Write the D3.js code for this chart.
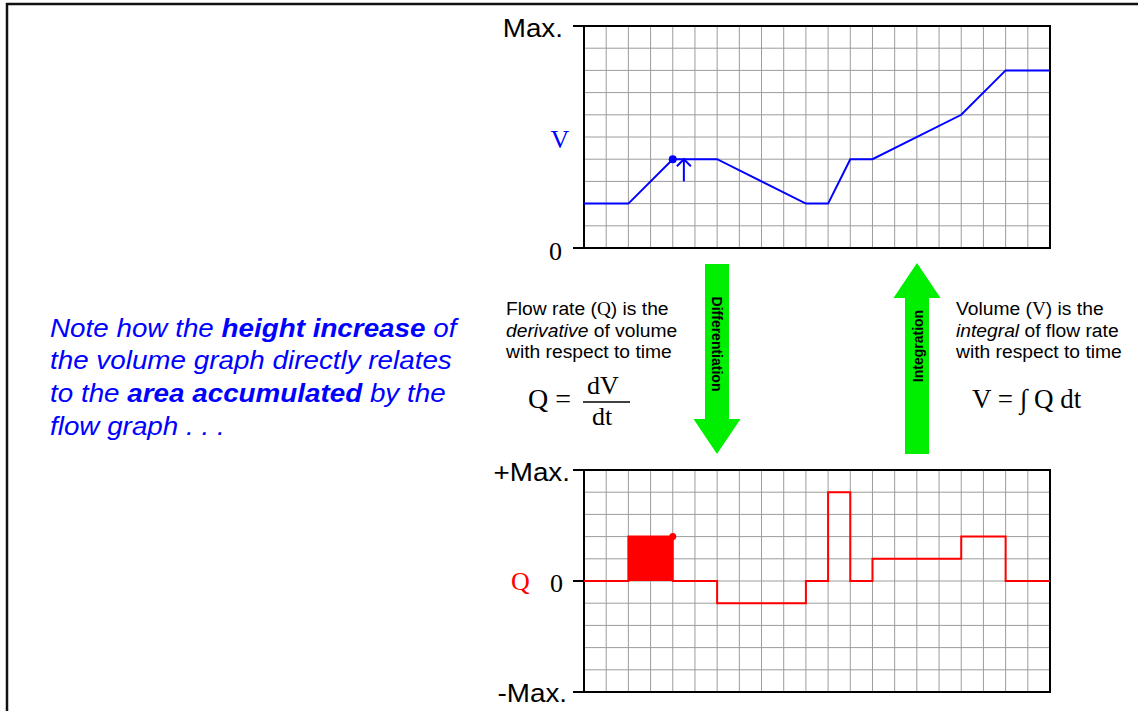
<!DOCTYPE html>
<html>
<head>
<meta charset="utf-8">
<script src="https://cdn.jsdelivr.net/npm/d3@7"></script>
<style>
  body { margin: 0; background: #fff; }
  svg { display: block; }
  .sans { font-family: "Liberation Sans", Arial, sans-serif; }
  .serif { font-family: "Liberation Serif", "Times New Roman", serif; }
</style>
</head>
<body>
<svg id="chart"></svg>
<script>
// volume curve: time (grid columns) vs volume (grid rows)
var vTimes  = [0, 2, 4, 6, 10, 11, 12, 13, 17, 19, 21];
var vValues = [2, 2, 4, 4, 2, 2, 4, 4, 6, 8, 8];

// flow rate steps: value holds from each time until the next
var qTimes  = [0, 2, 4, 6, 10, 11, 12, 13, 17, 19, 21];
var qValues = [0, 2, 0, -1, 0, 4, 0, 1, 2, 0, 0];

// highlighted piece of the flow graph and its matching volume point
var shadedSpan = [2, 4];
var markTime = 4;

var vTicks = [{ v: 10, label: "Max." }, { v: 0, label: "0" }];
var qTicks = [{ v: 5, label: "+Max." }, { v: 0, label: "0" }, { v: -5, label: "-Max." }];

var width = 1138, height = 711;
var stretch = 1.07;   // sans text in the original is slightly wide

var svg = d3.select("#chart")
    .attr("width", width)
    .attr("height", height);

// outer frame (top + left edges visible)
svg.append("line")
    .attr("x1", 6).attr("x2", width).attr("y1", 4).attr("y2", 4)
    .attr("stroke", "#111").attr("stroke-width", 2.5);
svg.append("line")
    .attr("x1", 7).attr("x2", 7).attr("y1", 3).attr("y2", height)
    .attr("stroke", "#111").attr("stroke-width", 2.5);

var x = d3.scaleLinear().domain([0, 21]).range([584, 1050]);
var yV = d3.scaleLinear().domain([0, 10]).range([248, 26]);
var yQ = d3.scaleLinear().domain([-5, 5]).range([692, 470]);

function drawGrid(y, lo, hi) {
    var g = svg.append("g");
    g.selectAll("line.vx")
        .data(d3.range(1, 21))
        .join("line")
        .attr("x1", function(d) { return x(d); })
        .attr("x2", function(d) { return x(d); })
        .attr("y1", y(lo)).attr("y2", y(hi))
        .attr("stroke", "#9c9c9c").attr("stroke-width", 1);
    g.selectAll("line.hy")
        .data(d3.range(lo + 1, hi))
        .join("line")
        .attr("x1", x(0)).attr("x2", x(21))
        .attr("y1", function(d) { return y(d); })
        .attr("y2", function(d) { return y(d); })
        .attr("stroke", "#9c9c9c").attr("stroke-width", 1);
    g.append("rect")
        .attr("x", x(0)).attr("y", y(hi))
        .attr("width", x(21) - x(0)).attr("height", y(lo) - y(hi))
        .attr("fill", "none").attr("stroke", "#000").attr("stroke-width", 2);
    return g;
}

function sansLabel(xx, yy, anchor, size, txt) {
    svg.append("text").attr("class", "sans")
        .attr("transform", "translate(" + xx + "," + yy + ") scale(" + stretch + ",1)")
        .attr("text-anchor", anchor)
        .style("font-size", size + "px").text(txt);
}

// ---- volume graph ----
drawGrid(yV, 0, 10);

svg.selectAll("line.vtick")
    .data(vTicks)
    .join("line")
    .attr("x1", 573).attr("x2", x(0))
    .attr("y1", function(d) { return yV(d.v); })
    .attr("y2", function(d) { return yV(d.v); })
    .attr("stroke", "#000").attr("stroke-width", 2);

sansLabel(563, 37, "end", 26, vTicks[0].label);
svg.append("text").attr("class", "serif")
    .attr("x", 562).attr("y", 260).attr("text-anchor", "end")
    .style("font-size", "26px").text(vTicks[1].label);
svg.append("text").attr("class", "serif")
    .attr("x", 560).attr("y", 148).attr("text-anchor", "middle")
    .attr("fill", "#0000ff").style("font-size", "26px").text("V");

var vLine = d3.line()
    .x(function(d, i) { return x(vTimes[i]); })
    .y(function(d) { return yV(d); });

svg.append("path")
    .attr("d", vLine(vValues))
    .attr("fill", "none").attr("stroke", "#0000ff").attr("stroke-width", 2);

var markV = vValues[vTimes.indexOf(markTime)];
svg.append("circle")
    .attr("cx", x(markTime)).attr("cy", yV(markV)).attr("r", 4)
    .attr("fill", "#0000ff");

// small "rise" arrow next to the dot
var ax = x(markTime + 0.5);
svg.append("path")
    .attr("d", d3.line()([[ax, yV(markV - 1)], [ax, yV(markV)]]))
    .attr("stroke", "#0000ff").attr("stroke-width", 2).attr("fill", "none");
svg.append("path")
    .attr("d", d3.line()([[ax - 7, yV(markV) + 7], [ax, yV(markV)], [ax + 7, yV(markV) + 7]]))
    .attr("stroke", "#0000ff").attr("stroke-width", 2).attr("fill", "none");

// ---- flow graph ----
drawGrid(yQ, -5, 5);

svg.selectAll("line.qtick")
    .data(qTicks)
    .join("line")
    .attr("x1", 573).attr("x2", x(0))
    .attr("y1", function(d) { return yQ(d.v); })
    .attr("y2", function(d) { return yQ(d.v); })
    .attr("stroke", "#000").attr("stroke-width", 2);

sansLabel(570, 481, "end", 26, qTicks[0].label);
svg.append("text").attr("class", "serif")
    .attr("x", 563).attr("y", 592).attr("text-anchor", "end")
    .style("font-size", "26px").text(qTicks[1].label);
sansLabel(567, 702, "end", 26, qTicks[2].label);
svg.append("text").attr("class", "serif")
    .attr("x", 511).attr("y", 590)
    .attr("fill", "#ff0000").style("font-size", "26px").text("Q");

var qData = qTimes.map(function(t, i) { return { t: t, q: qValues[i] }; });

var shaded = qData.filter(function(d) { return d.t >= shadedSpan[0] && d.t <= shadedSpan[1]; });
svg.append("path")
    .attr("d", d3.area()
        .curve(d3.curveStepAfter)
        .x(function(d) { return x(d.t); })
        .y0(yQ(0))
        .y1(function(d, i) { return yQ(i === shaded.length - 1 ? shaded[0].q : d.q); })(shaded))
    .attr("fill", "#ff0000");

svg.append("path")
    .attr("d", d3.line()
        .curve(d3.curveStepAfter)
        .x(function(d) { return x(d.t); })
        .y(function(d) { return yQ(d.q); })(qData))
    .attr("fill", "none").attr("stroke", "#ff0000").attr("stroke-width", 2);

svg.append("circle")
    .attr("cx", x(markTime)).attr("cy", yQ(shaded[0].q)).attr("r", 3.5)
    .attr("fill", "#ff0000");

// ---- arrows ----
function arrow(cx, tail, tip, headBase, shaftW, headW) {
    var pts = [
        [cx - shaftW / 2, tail], [cx - shaftW / 2, headBase], [cx - headW / 2, headBase],
        [cx, tip], [cx + headW / 2, headBase], [cx + shaftW / 2, headBase], [cx + shaftW / 2, tail]
    ];
    return d3.line()(pts) + "Z";
}

svg.append("path").attr("d", arrow(717, 264, 454, 419, 24, 47)).attr("fill", "#00ee00");
svg.append("path").attr("d", arrow(917, 454, 263, 298, 24, 47)).attr("fill", "#00ee00");

svg.append("text").attr("class", "sans")
    .attr("transform", "translate(717,344) rotate(90)")
    .attr("text-anchor", "middle").attr("dominant-baseline", "central")
    .style("font-size", "14px").style("font-weight", "bold").text("Differentiation");
svg.append("text").attr("class", "sans")
    .attr("transform", "translate(918,346) rotate(-90)")
    .attr("text-anchor", "middle").attr("dominant-baseline", "central")
    .style("font-size", "14px").style("font-weight", "bold").text("Integration");

// ---- explanation text ----
function richLines(x0, baselines, lines, size, extra) {
    var t = svg.append("text").attr("class", "sans")
        .attr("transform", "translate(" + x0 + ",0) scale(" + stretch + ",1)")
        .style("font-size", size + "px");
    if (extra) extra(t);
    lines.forEach(function(parts, i) {
        parts.forEach(function(p, j) {
            var s = t.append("tspan").text(p.s);
            if (j === 0) s.attr("x", 0).attr("y", baselines[i]);
            if (p.b) s.style("font-weight", "bold");
            if (p.i) s.style("font-style", "italic");
            if (p.serif) s.attr("class", "serif");
        });
    });
}

richLines(506, [315, 337, 358], [
    [{ s: "Flow rate (" }, { s: "Q", serif: true }, { s: ") is the" }],
    [{ s: "derivative", i: true }, { s: " of volume" }],
    [{ s: "with respect to time" }]
], 18);

richLines(956, [315, 337, 358], [
    [{ s: "Volume (" }, { s: "V", serif: true }, { s: ") is the" }],
    [{ s: "integral", i: true }, { s: " of flow rate" }],
    [{ s: "with respect to time" }]
], 18);

richLines(50, [337, 369, 402, 435], [
    [{ s: "Note how the " }, { s: "height increase", b: true }, { s: " of" }],
    [{ s: "the volume graph directly relates" }],
    [{ s: "to the " }, { s: "area accumulated", b: true }, { s: " by the" }],
    [{ s: "flow graph . . ." }]
], 26, function(t) { t.attr("fill", "#0000ff").style("font-style", "italic"); });

// ---- formulas ----
svg.append("text").attr("class", "serif").attr("x", 528).attr("y", 408)
    .style("font-size", "28px").text("Q =");
svg.append("text").attr("class", "serif").attr("x", 603).attr("y", 394)
    .attr("text-anchor", "middle").style("font-size", "26px").text("dV");
svg.append("line").attr("x1", 583).attr("x2", 630).attr("y1", 402).attr("y2", 402)
    .attr("stroke", "#000").attr("stroke-width", 1.5);
svg.append("text").attr("class", "serif").attr("x", 602).attr("y", 425)
    .attr("text-anchor", "middle").style("font-size", "26px").text("dt");

svg.append("text").attr("class", "serif").attr("x", 972).attr("y", 408)
    .style("font-size", "27px").text("V = \u222B Q dt");
</script>
</body>
</html>
